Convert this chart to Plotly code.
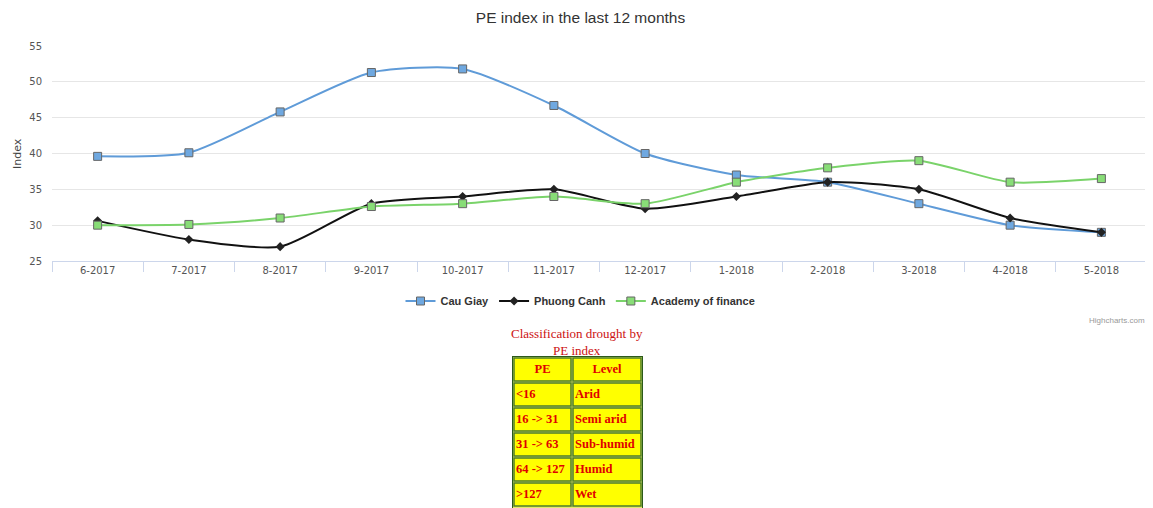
import plotly.graph_objects as go

OFF = 8  # page body margin in the browser
W, H = 1153 - OFF, 508 - OFF

months = ["6-2017", "7-2017", "8-2017", "9-2017", "10-2017", "11-2017",
          "12-2017", "1-2018", "2-2018", "3-2018", "4-2018", "5-2018"]
cau_giay = [39.6, 40.1, 45.8, 51.3, 51.8, 46.7, 40.0, 37.0, 36.0, 33.0, 30.0, 29.0]
phuong_canh = [30.6, 28.0, 27.0, 33.0, 34.0, 35.0, 32.3, 34.0, 36.0, 35.0, 31.0, 29.0]
academy = [30.0, 30.1, 31.0, 32.6, 33.0, 34.0, 33.0, 36.0, 38.0, 39.0, 36.0, 36.5]

table_header = ["PE", "Level"]
pe_ranges = ["<16", "16 -> 31", "31 -> 63", "64 -> 127", ">127"]
pe_levels = ["Arid", "Semi arid", "Sub-humid", "Humid", "Wet"]

# table geometry (pixels, in the table's own axis units)
COL_W = [57, 68]
BORDER = 2
GAP = 2
ROW_H = 23
TABLE_LEFT, TABLE_TOP = 512, 356


def px_x(p):
    return (p - OFF) / W


def px_y(p):
    return 1 - (p - OFF) / H


fig = go.Figure()

fig.add_trace(go.Scatter(
    x=months, y=cau_giay, name="Cau Giay", mode="lines+markers",
    line=dict(color="#5f9bd8", width=2, shape="spline", smoothing=0.65),
    marker=dict(symbol="square", size=8, color="#6fa8e0",
                line=dict(color="#666666", width=1)),
))
fig.add_trace(go.Scatter(
    x=months, y=phuong_canh, name="Phuong Canh", mode="lines+markers",
    line=dict(color="#111111", width=2, shape="spline", smoothing=0.65),
    marker=dict(symbol="diamond", size=7, color="#222222",
                line=dict(color="#222222", width=0)),
))
fig.add_trace(go.Scatter(
    x=months, y=academy, name="Academy of finance", mode="lines+markers",
    line=dict(color="#7ad36a", width=2, shape="spline", smoothing=0.65),
    marker=dict(symbol="square", size=8, color="#88dd77",
                line=dict(color="#666666", width=1)),
))

# ---- classification table drawn on its own pixel-unit axes ----
serif = "Liberation Serif, Times New Roman, serif"
columns = [[table_header[0]] + pe_ranges, [table_header[1]] + pe_levels]
n_rows = len(columns[0])
table_w = BORDER * 2 + sum(COL_W) + GAP * (len(COL_W) - 1)
table_h = H - (TABLE_TOP - OFF)

shapes = [dict(type="rect", xref="x2", yref="y2", x0=0, x1=table_w,
               y0=0, y1=BORDER + n_rows * (ROW_H + GAP) + BORDER,
               fillcolor="#e4e96a", line=dict(color="#2b5a1a", width=2), layer="below")]
tx, ty, tt, tpos = [], [], [], []
x_left = BORDER
for ci, col in enumerate(columns):
    for ri, val in enumerate(col):
        y0 = BORDER + ri * (ROW_H + GAP)
        shapes.append(dict(type="rect", xref="x2", yref="y2",
                           x0=x_left, x1=x_left + COL_W[ci], y0=y0, y1=y0 + ROW_H,
                           fillcolor="#ffff00", line=dict(color="#4d7d2a", width=1.5),
                           layer="below"))
        if ri == 0:
            tx.append(x_left + COL_W[ci] / 2)
            tpos.append("middle center")
        else:
            tx.append(x_left + 2)
            tpos.append("middle right")
        ty.append(y0 + ROW_H / 2)
        tt.append("<b>" + val + "</b>")
    x_left += COL_W[ci] + GAP

fig.add_trace(go.Scatter(
    x=tx, y=ty, text=tt, mode="text", textposition=tpos,
    textfont=dict(family=serif, size=12.5, color="#e00000"),
    xaxis="x2", yaxis="y2", showlegend=False, hoverinfo="skip", cliponaxis=False,
))

font = "DejaVu Sans, Verdana, sans-serif"
sans = "Liberation Sans, Arial, sans-serif"
fig.update_layout(
    width=W, height=H,
    margin=dict(l=0, r=0, t=0, b=0),
    paper_bgcolor="white", plot_bgcolor="white",
    title=dict(text="PE index in the last 12 months", x=0.5, xanchor="center",
               y=1 - (18 - OFF) / H, yanchor="middle", yref="container",
               font=dict(family=sans, size=15.5, color="#333333")),
    xaxis=dict(domain=[px_x(52), px_x(1147)], automargin=False,
               type="category", range=[-0.5, len(months) - 0.5],
               showgrid=False, zeroline=False,
               showline=True, linecolor="#ccd6eb", linewidth=1,
               ticks="outside", tickson="boundaries", ticklen=10, tickcolor="#ccd6eb",
               tickfont=dict(family=font, size=10, color="#555555")),
    yaxis=dict(domain=[px_y(261), px_y(46)], automargin=False,
               range=[25, 55], dtick=5, tick0=25,
               showgrid=True, gridcolor="#e6e6e6", zeroline=False,
               showline=False, ticks="", ticklabelstandoff=9,
               tickfont=dict(family=font, size=10, color="#555555")),
    xaxis2=dict(domain=[px_x(TABLE_LEFT), px_x(TABLE_LEFT + table_w)], range=[0, table_w],
                visible=False, fixedrange=True, automargin=False),
    yaxis2=dict(domain=[0, px_y(TABLE_TOP)], range=[table_h, 0],
                visible=False, fixedrange=True, automargin=False),
    legend=dict(orientation="h", x=0.5, xanchor="center", y=px_y(301), yanchor="middle",
                font=dict(family=sans, size=11, color="#333333", weight="bold"),
                itemwidth=30, bgcolor="rgba(0,0,0,0)"),
    showlegend=True,
    shapes=shapes,
    annotations=[
        dict(text="Index", x=px_x(17), y=px_y(154), xref="paper", yref="paper",
             xanchor="center", yanchor="middle", textangle=-90, showarrow=False,
             font=dict(family=font, size=11, color="#444444")),
        dict(text="Highcharts.com", x=px_x(1147), y=px_y(320), xref="paper", yref="paper",
             xanchor="right", yanchor="middle", showarrow=False,
             font=dict(family=sans, size=8, color="#999999")),
        dict(text="Classification drought by<br>PE index", x=px_x(577), y=px_y(342),
             xref="paper", yref="paper", xanchor="center", yanchor="middle",
             showarrow=False,
             font=dict(family=serif, size=13, color="#cc1111")),
    ],
)

fig.write_html("out.html")
